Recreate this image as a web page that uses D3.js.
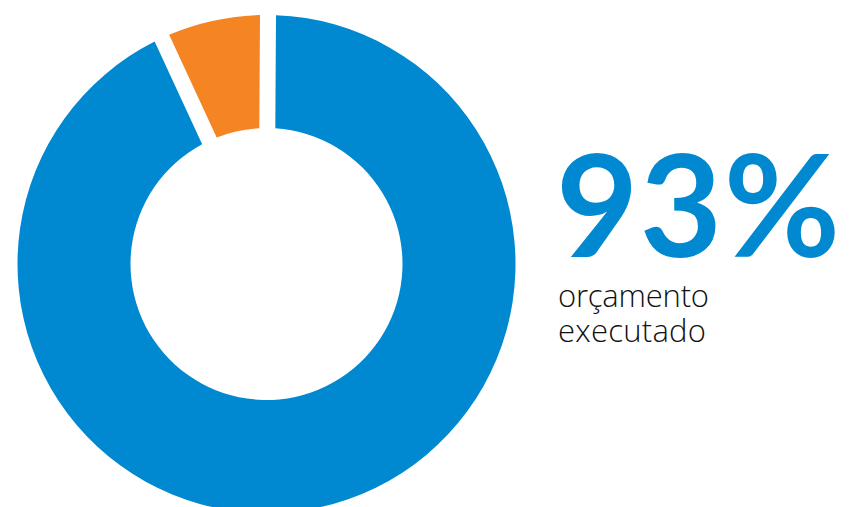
<!DOCTYPE html>
<html>
<head>
<meta charset="utf-8">
<script src="https://cdn.jsdelivr.net/npm/d3@7"></script>
<style>
  html, body { margin: 0; padding: 0; background: #fff; }
  svg { display: block; }
</style>
</head>
<body>
<svg id="vis_donut"></svg>
<script>
// Donut chart: share of the budget executed

var categories = ["executado", "não executado"];
var values = [93, 7];
var colors = ["#0089d0", "#f58423"];
var bigLabel = "93%";
var subLabel = ["orçamento", "executado"];

function vis_donut() {
  var svg = d3.select("#vis_donut"),
    width = 849,
    height = 507;
  svg.attr("width", width).attr("height", height);

  var cx = 266.5, cy = 264,
    outerR = 249, innerR = 136;

  var start = 0.006;
  var pie = d3.pie()
    .sort(null)
    .startAngle(start)
    .endAngle(start + 2 * Math.PI);

  var arc = d3.arc()
    .innerRadius(innerR)
    .outerRadius(outerR)
    .padAngle(16 / Math.sqrt(innerR * innerR + outerR * outerR));

  var color = d3.scaleOrdinal().domain(categories).range(colors);

  var g = svg.append("g").attr("transform", "translate(" + cx + "," + cy + ")");
  g.selectAll("path")
    .data(pie(values))
    .enter()
    .append("path")
      .attr("d", arc)
      .attr("fill", function(d, i) { return color(categories[i]); });

  // big percentage
  svg.append("text")
    .attr("x", 556)
    .attr("y", 257)
    .attr("textLength", 284)
    .attr("lengthAdjust", "spacing")
    .style("font-family", "Lato, 'Open Sans', sans-serif")
    .style("font-weight", 700)
    .style("font-size", "142px")
    .style("fill", colors[0])
    .text(bigLabel);

  // caption, two lines in one text
  var lens = [151, 148];
  svg.append("text")
    .attr("class", "caption")
    .style("font-family", "'Open Sans', sans-serif")
    .style("font-weight", 300)
    .style("font-size", "31px")
    .style("fill", "#111")
    .selectAll("tspan")
    .data(subLabel)
    .enter()
    .append("tspan")
      .attr("x", 558)
      .attr("y", function(d, i) { return 307 + i * 35; })
      .attr("textLength", function(d, i) { return lens[i]; })
      .attr("lengthAdjust", "spacing")
      .text(function(d) { return d; });
}

vis_donut();
</script>
</body>
</html>
